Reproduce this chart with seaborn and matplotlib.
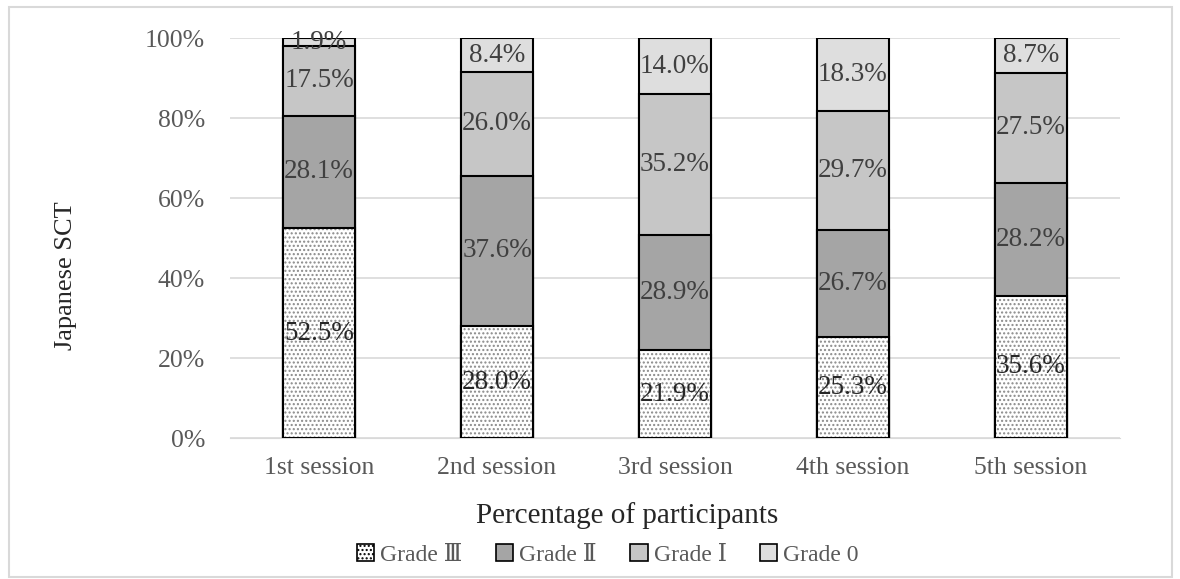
import numpy as np
import pandas as pd
import matplotlib
import matplotlib.pyplot as plt
import seaborn as sns
from matplotlib.patches import Patch, Rectangle

sessions = ["1st session", "2nd session", "3rd session", "4th session", "5th session"]
grade_3 = [52.5, 28.0, 21.9, 25.3, 35.6]
grade_2 = [28.1, 37.6, 28.9, 26.7, 28.2]
grade_1 = [17.5, 26.0, 35.2, 29.7, 27.5]
grade_0 = [1.9, 8.4, 14.0, 18.3, 8.7]
grade_names = ["Grade Ⅲ", "Grade Ⅱ", "Grade Ⅰ", "Grade 0"]
grade_colors = ["white", "#a5a5a5", "#c6c6c6", "#dedede"]

sns.set_style("white")
plt.rcParams["font.family"] = ["Liberation Serif", "DejaVu Serif", "Noto Sans CJK JP"]
plt.rcParams["hatch.linewidth"] = 1.0

grades = [grade_3, grade_2, grade_1, grade_0]
df = pd.DataFrame({"session": sessions})
cum = np.cumsum(np.array(grades), axis=0)

fig = plt.figure(figsize=(11.8, 5.79), dpi=100)
ax = fig.add_axes([0.195, 0.2435, 0.754, 0.6905])

# stacked bars: draw cumulative totals from the top down
for k in range(3, -1, -1):
    df["val"] = cum[k]
    if k == 0:
        sns.barplot(data=df, x="session", y="val", color="white", width=0.405,
                    edgecolor="#8a8a8a", linewidth=0, hatch="....", saturation=1,
                    ax=ax, zorder=3)
        sns.barplot(data=df, x="session", y="val", fill=False, color="black",
                    width=0.405, linewidth=1.5, ax=ax, zorder=4)
    else:
        sns.barplot(data=df, x="session", y="val", color=grade_colors[k],
                    width=0.405, edgecolor="black", linewidth=1.5, saturation=1,
                    ax=ax, zorder=3)

# value labels in segment centres
for k, vals in enumerate(grades):
    bottoms = cum[k] - np.array(vals)
    for i, v in enumerate(vals):
        ax.text(i, bottoms[i] + v / 2, f"{v:.1f}%", ha="center", va="center",
                fontsize=19.5, color="#262626" if k == 0 else "#404040", zorder=5)

ax.set_ylim(0, 100)
ax.set_xlim(-0.5, 4.5)
ax.set_yticks(range(0, 101, 20))
ax.set_yticklabels([f"{t}%" for t in range(0, 101, 20)])
ax.yaxis.grid(True, color="#d9d9d9", linewidth=1.2, zorder=0)
ax.set_axisbelow(True)
for s in ["top", "right", "left"]:
    ax.spines[s].set_visible(False)
ax.spines["bottom"].set_color("#d9d9d9")
ax.tick_params(axis="both", length=0, labelsize=18.5, labelcolor="#595959")
ax.tick_params(axis="x", labelsize=18.5, pad=14)
ax.tick_params(axis="y", pad=18)
ax.set_xlabel("Percentage of participants", fontsize=21, color="#262626")
ax.set_ylabel("Japanese SCT", fontsize=19, color="#262626")
ax.xaxis.set_label_coords(0.446, -0.16)
ax.yaxis.set_label_coords(-0.172, 0.405)

handles = [
    Patch(facecolor=c, edgecolor="black", linewidth=1.2, hatch="...." if i == 0 else None)
    for i, c in enumerate(grade_colors)
]
fig.legend(handles, grade_names, loc="center", bbox_to_anchor=(0.515, 0.042), ncol=4,
           frameon=False, fontsize=17, handlelength=0.75, handleheight=0.75,
           handletextpad=0.25, columnspacing=1.4, labelcolor="#595959")

fig.patches.append(Rectangle((0.008, 0.004), 0.985, 0.984, transform=fig.transFigure,
                             fill=False, edgecolor="#d9d9d9", linewidth=1.5))

fig.savefig("out.png", dpi=100)
